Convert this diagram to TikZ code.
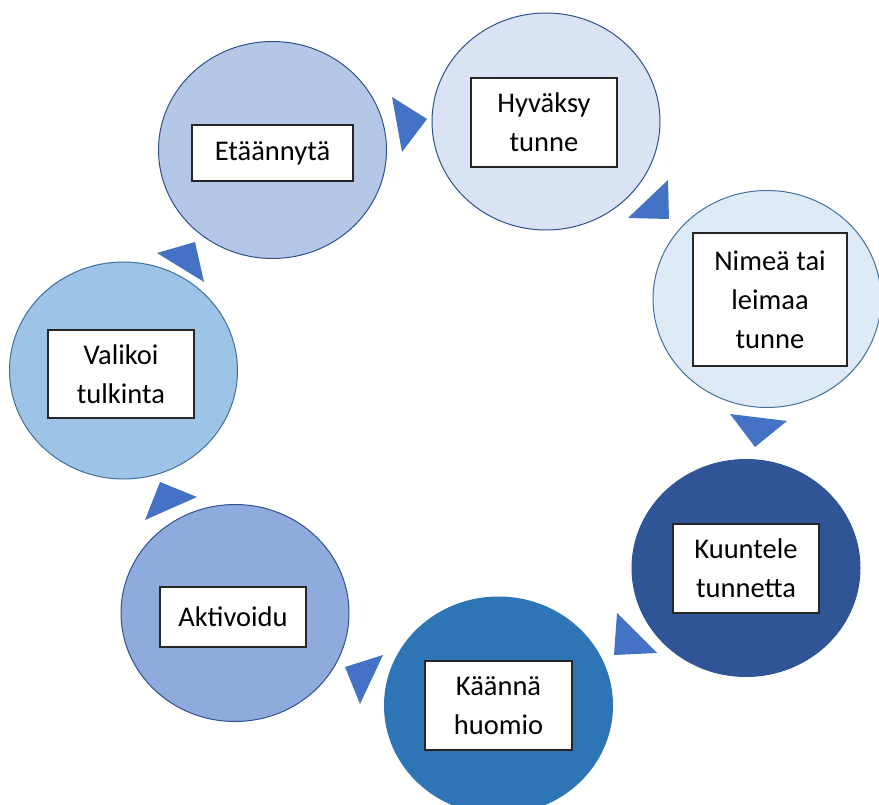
\documentclass[tikz,border=0pt]{standalone}
\usepackage{fontspec}
\setmainfont{Carlito}
\usetikzlibrary{shapes.geometric}
\definecolor{cA}{HTML}{B4C7E7}
\definecolor{cB}{HTML}{DAE3F3}
\definecolor{cC}{HTML}{DEEBF7}
\definecolor{cD}{HTML}{2F5597}
\definecolor{cE}{HTML}{2E75B6}
\definecolor{cF}{HTML}{8FAADC}
\definecolor{cG}{HTML}{9DC3E6}
\definecolor{lineA}{HTML}{2F528F}
\definecolor{lineB}{HTML}{41719C}
\definecolor{triblue}{HTML}{4472C4}
\definecolor{boxline}{HTML}{262626}
\tikzset{
  disc/.style={ellipse, minimum width=228pt, minimum height=217pt, inner sep=0pt, line width=1pt},
  label box/.style={draw=boxline, fill=white, line width=1.5pt, inner sep=0pt, align=center,
    font=\fontsize{28.5}{39}\selectfont, text=black},
  tri/.style={fill=triblue}
}
\begin{document}
\begin{tikzpicture}[x=1pt, y=-1pt]
\clip (0,0) rectangle (879,805);
\fill[white] (0,0) rectangle (879,805);
% discs
\node[disc, fill=cA, draw=lineA] (c1) at (272.5,150) {};
\node[disc, fill=cB, draw=lineA] (c2) at (546,121.5) {};
\node[disc, fill=cC, draw=lineB] (c3) at (767,299) {};
\node[disc, fill=cD, draw=cD] (c4) at (746,568) {};
\node[disc, fill=cE, draw=cE] (c5) at (498.5,705.5) {};
\node[disc, fill=cF, draw=lineA] (c6) at (235,613) {};
\node[disc, fill=cG, draw=lineB] (c7) at (123.5,370.5) {};
% label boxes
\node[label box, minimum width=161pt, minimum height=56pt] (b1) at (272.5,153) {Etäännytä};
\node[label box, minimum width=146pt, minimum height=89pt] (b2) at (544,122.5) {Hyväksy\\tunne};
\node[label box, minimum width=154pt, minimum height=133pt] (b3) at (770,299.5) {Nimeä tai\\leimaa\\tunne};
\node[label box, minimum width=146pt, minimum height=89pt] (b4) at (746,568.5) {Kuuntele\\tunnetta};
\node[label box, minimum width=147pt, minimum height=89pt] (b5) at (498.5,705.5) {Käännä\\huomio};
\node[label box, minimum width=146pt, minimum height=60pt] (b6) at (233,617) {Aktivoidu};
\node[label box, minimum width=146pt, minimum height=88pt] (b7) at (121,374) {Valikoi\\tulkinta};
% direction triangles
\fill[tri] (392,97) -- (427,119) -- (402,152) -- cycle;
\fill[tri] (628,218) -- (668,180) -- (669,219) -- cycle;
\fill[tri] (730,414) -- (787,421) -- (755,447) -- cycle;
\fill[tri] (617,613) -- (657,653) -- (614,655) -- cycle;
\fill[tri] (345,667) -- (383,655) -- (360,704) -- cycle;
\fill[tri] (145,520) -- (160,482) -- (197,497) -- cycle;
\fill[tri] (157,253) -- (195,242) -- (204,282) -- cycle;
\end{tikzpicture}
\end{document}
